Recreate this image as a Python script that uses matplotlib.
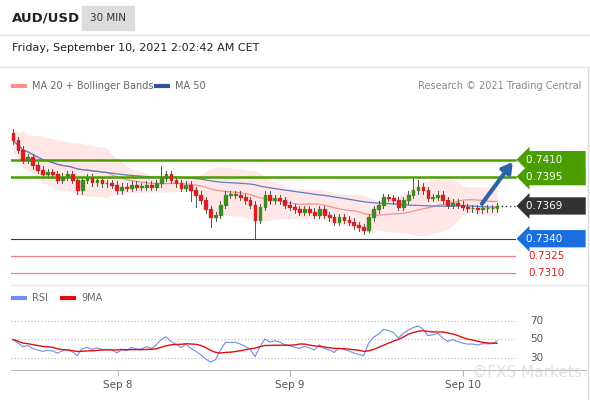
import numpy as np, pandas as pd
import matplotlib
matplotlib.use("Agg")
import matplotlib.pyplot as plt
from matplotlib.patches import Rectangle

closes = [0.7427,0.7419,0.7410,0.7412,0.7405,0.7401,0.7397,0.7399,0.7397,0.7392,0.7395,0.7397,0.7392,0.7383,
0.7392,0.7394,0.7390,0.7392,0.7389,0.7389,0.7388,0.7383,0.7386,0.7385,0.7388,0.7386,0.7386,0.7388,0.7386,
0.7389,0.7394,0.7397,0.7392,0.7389,0.7385,0.7388,0.7383,0.7379,0.7374,0.7366,0.7359,0.7361,0.7370,0.7379,
0.7379,0.7379,0.7377,0.7374,0.7370,0.7357,0.7368,0.7379,0.7374,0.7376,0.7374,0.7370,0.7368,0.7366,0.7364,
0.7366,0.7364,0.7361,0.7366,0.7361,0.7359,0.7355,0.7359,0.7357,0.7355,0.7352,0.7350,0.7348,0.7359,0.7366,
0.7370,0.7377,0.7376,0.7374,0.7368,0.7374,0.7379,0.7383,0.7386,0.7383,0.7376,0.7377,0.7379,0.7374,0.7370,
0.7372,0.7370,0.7368,0.7367,0.7367,0.7366,0.7367,0.7367,0.7367,0.7369]
first_open = 0.7434
big_lows = {36: 0.7373, 37: 0.7368, 49: 0.7340, 40: 0.7350, 71: 0.7344, 72: 0.7346}
big_highs = {30: 0.7404, 81: 0.7394, 82: 0.7392}
day_labels = ["Sep 8", "Sep 9", "Sep 10"]
day_pos = [21.2, 56.1, 91.1]
levels_green = [0.7410, 0.7395]
level_blue = 0.7340
levels_red = [0.7325, 0.7310]
last_price = 0.7369

W, H = 590, 400
fig = plt.figure(figsize=(5.9, 4.0), dpi=100)
def frect(x0, y0, x1, y1):
    return [x0/W, 1-y1/H, (x1-x0)/W, (y1-y0)/H]

fig.text(12/W, 1-18/H, "AUD/USD", fontsize=9.5, fontweight="bold", va="center", color="#222")
fig.patches.append(Rectangle((82/W, 1-30/H), 52/W, 24/H, transform=fig.transFigure, color="#dcdcdc"))
fig.text(108/W, 1-18/H, "30 MIN", fontsize=7.5, ha="center", va="center", color="#333")
fig.text(12/W, 1-48/H, "Friday, September 10, 2021 2:02:42 AM CET", fontsize=8, va="center", color="#222")
for y in [35, 67]:
    fig.add_artist(plt.Line2D([0, 1], [1-y/H]*2, color="#e6e6e6", lw=1))
fig.add_artist(plt.Line2D([588/W]*2, [1-67/H, 0], color="#dddddd", lw=1))

c = np.array(closes)
o = np.concatenate([[first_open], c[:-1]])
n = len(c)
idx = np.arange(n)
hi = np.maximum(o, c) + 0.0003
lo = np.minimum(o, c) - 0.0003
for k, v in big_lows.items(): lo[k] = v
for k, v in big_highs.items(): hi[k] = v

s = pd.Series(c)
ma20 = s.rolling(20, min_periods=1).mean()
sd = s.rolling(20, min_periods=2).std().bfill()
ma50 = s.rolling(50, min_periods=1).mean()

ax = fig.add_axes(frect(11, 75, 586, 285))
ax.set_xlim(-0.4, 116)
ax.set_ylim(0.7299, 0.7485)
ax.axis("off")
ax.fill_between(idx, ma20-2*sd, ma20+2*sd, color="#ffdede", alpha=0.7, lw=0)
ax.plot(idx, ma20, color="#f59090", lw=0.9)
ax.plot(idx, ma50, color="#5b7fbf", lw=0.9)
for i in range(n):
    col = "#3d8b1e" if c[i] >= o[i] else "#d81e1e"
    ax.plot([i, i], [lo[i], hi[i]], color="#555", lw=0.7)
    ax.add_patch(Rectangle((i-0.28, min(o[i], c[i])), 0.56, max(abs(c[i]-o[i]), 0.00005), color=col, zorder=3))

xend = 101.6
for lv in levels_green:
    ax.plot([-0.4, xend], [lv, lv], color="#4a9e00", lw=1.8)
ax.plot([-0.4, xend], [level_blue]*2, color="#333b55", lw=0.8)
for lv in levels_red:
    ax.plot([-0.4, xend], [lv, lv], color="#f08080", lw=0.9)
ax.plot([n-1, xend], [last_price]*2, color="#333", lw=1, ls=(0, (1, 2)))
ax.annotate("", xy=(101.5, 0.7410), xytext=(94.6, 0.7369),
            arrowprops=dict(arrowstyle="-|>,head_width=0.35,head_length=0.6", color="#2d64a8", lw=3))

def lab(y, txt, fc):
    ax.text(103.9, y, txt, fontsize=7.5, color="white", va="center", ha="left",
            bbox=dict(boxstyle="larrow,pad=0.35", fc=fc, ec="none"))
for lv in levels_green:
    lab(lv, f"{lv:.4f}      ", "#4a9e00")
lab(last_price, f"{last_price:.4f}      ", "#333333")
lab(level_blue, f"{level_blue:.4f}      ", "#1a6ee0")
for lv in levels_red:
    ax.text(104.3, lv, f"{lv:.4f}", fontsize=7.5, color="#d81e1e", va="center")

fig.add_artist(plt.Line2D([13/W, 25/W], [1-86/H]*2, color="#f59090", lw=3))
fig.text(32/W, 1-86/H, "MA 20 + Bollinger Bands", fontsize=7, color="#666", va="center")
fig.add_artist(plt.Line2D([156/W, 168/W], [1-86/H]*2, color="#2f5597", lw=3))
fig.text(175/W, 1-86/H, "MA 50", fontsize=7, color="#666", va="center")
fig.text(581/W, 1-86/H, "Research © 2021 Trading Central", fontsize=7, color="#888", va="center", ha="right")
fig.add_artist(plt.Line2D([11/W, 586/W], [1-285/H]*2, color="#e6e6e6", lw=1))

d = s.diff().fillna(0)
seed = 0.0004
up = pd.concat([pd.Series([seed]), d.clip(lower=0)], ignore_index=True).ewm(alpha=1/14, adjust=False).mean().iloc[1:].reset_index(drop=True)
dn = pd.concat([pd.Series([seed]), (-d).clip(lower=0)], ignore_index=True).ewm(alpha=1/14, adjust=False).mean().iloc[1:].reset_index(drop=True)
rsi = 100*up/(up+dn)
rsi9 = rsi.rolling(9, min_periods=1).mean()
ax2 = fig.add_axes(frect(11, 290, 586, 370))
ax2.set_xlim(-0.4, 116)
ax2.set_ylim(17, 103.5)
for sp in ["top", "right", "left"]:
    ax2.spines[sp].set_visible(False)
ax2.spines["bottom"].set_color("#bbbbbb")
ax2.set_yticks([])
for lv in [70, 50, 30]:
    ax2.plot([-0.4, 101.6], [lv, lv], color="#bbbbbb", lw=0.8, ls=(0, (1, 2)))
    ax2.text(104.7, lv, str(lv), fontsize=7.5, color="#555", va="center")
ax2.plot(idx, rsi, color="#6f8fe8", lw=0.8)
ax2.plot(idx, rsi9, color="#e01010", lw=1)
ax2.set_xticks(day_pos)
ax2.set_xticklabels(day_labels, fontsize=7.5, color="#555")
ax2.tick_params(axis="x", length=4, color="#bbbbbb")
fig.add_artist(plt.Line2D([13/W, 25/W], [1-298/H]*2, color="#6f8fe8", lw=3))
fig.text(32/W, 1-298/H, "RSI", fontsize=7, color="#666", va="center")
fig.add_artist(plt.Line2D([62/W, 74/W], [1-298/H]*2, color="#e01010", lw=3))
fig.text(81/W, 1-298/H, "9MA", fontsize=7, color="#666", va="center")
fig.text(582/W, 1-372/H, "©FXS Markets", fontsize=11, color="#cccccc", alpha=0.6, ha="right", va="center")

fig.savefig("out.png", dpi=100)
